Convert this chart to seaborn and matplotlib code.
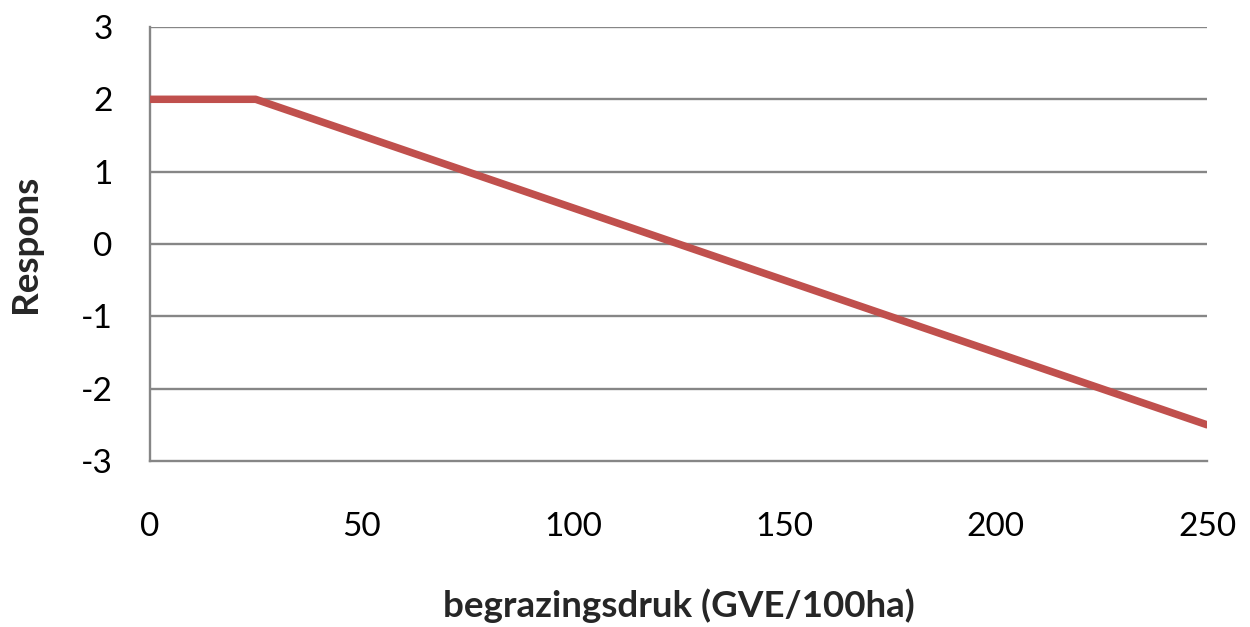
import matplotlib
matplotlib.use("Agg")
import matplotlib.pyplot as plt
import seaborn as sns
import pandas as pd

# breakpoints of the response curve
druk = [0, 25, 250]
respons = [2, 2, -2.5]

sns.set_style("white")
plt.rcParams['font.family'] = ['Lato', 'DejaVu Sans']
plt.rcParams['axes.unicode_minus'] = False

df = pd.DataFrame({"druk": druk, "respons": respons})

fig = plt.figure(figsize=(12.5, 6.27), dpi=100)
ax = fig.add_axes([0.12, 0.2648, 0.8456, 0.6922])

grid_c = "#868686"
ax.set_ylim(-3, 3)
ax.set_xlim(0, 250)
ax.set_yticks(range(-3, 4))
ax.set_xticks(range(0, 251, 50))
for yv in range(-2, 4):
    ax.axhline(yv, color=grid_c, lw=1.7, zorder=1)

sns.lineplot(data=df, x="druk", y="respons", ax=ax, color="#C0504D",
             lw=5.4, solid_capstyle="round", zorder=3)

for s in ["top", "right"]:
    ax.spines[s].set_visible(False)
ax.spines["left"].set_color(grid_c)
ax.spines["bottom"].set_color(grid_c)
ax.spines["left"].set_linewidth(1.7)
ax.spines["bottom"].set_linewidth(1.7)
ax.tick_params(axis="both", colors=grid_c, width=1.7, length=9,
               labelsize=24, labelcolor="black")
ax.tick_params(axis="x", pad=28)
ax.tick_params(axis="y", pad=18)

ax.set_xlabel("begrazingsdruk (GVE/100ha)", fontsize=26.5, fontweight="bold",
              labelpad=33)
ax.set_ylabel("Respons", fontsize=26.5, fontweight="bold", labelpad=28)

fig.savefig("out.png", dpi=100)
